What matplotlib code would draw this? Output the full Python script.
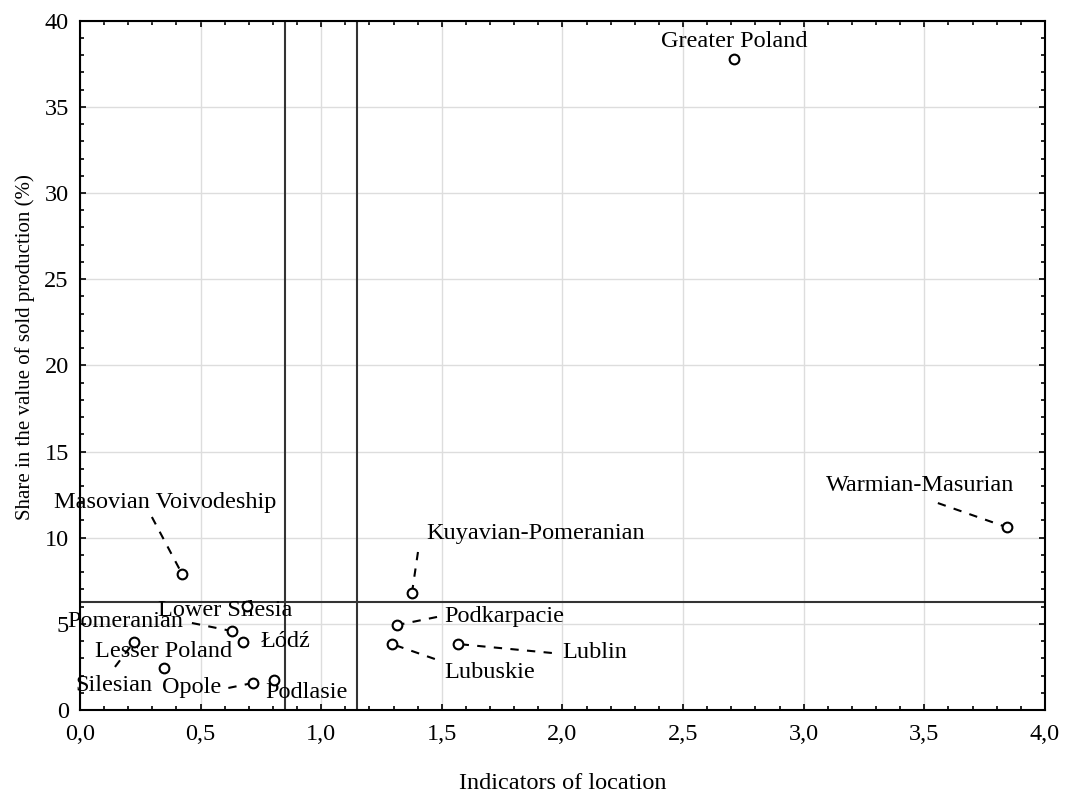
import matplotlib
matplotlib.use("Agg")
import matplotlib.pyplot as plt
from matplotlib.ticker import MultipleLocator, FuncFormatter

plt.rcParams['font.family'] = ['Liberation Serif', 'DejaVu Serif']

# data
regions = ["Greater Poland", "Warmian-Masurian", "Masovian Voivodeship", "Kuyavian-Pomeranian",
           "Lower Silesia", "Pomeranian", "Łódź", "Lesser Poland", "Silesian", "Opole",
           "Podlasie", "Podkarpacie", "Lubuskie", "Lublin"]
loc_index = [2.71, 3.843, 0.423, 1.376, 0.692, 0.630, 0.676, 0.348, 0.224, 0.717,
             0.804, 1.314, 1.293, 1.567]
share = [37.8, 10.6, 7.9, 6.79, 6.04, 4.58, 3.95, 2.44, 3.95, 1.57,
         1.74, 4.93, 3.83, 3.83]

# reference lines (mean share, location index band)
share_ref = 6.25
loc_refs = [0.85, 1.15]

# label layout: (text x, text y, ha, leader start or None)
label_pos = {
    "Greater Poland": (2.711, 38.77, "center", None),
    "Warmian-Masurian": (3.482, 13.0, "center", (3.556, 12.01)),
    "Masovian Voivodeship": (0.352, 12.07, "center", (0.298, 11.2)),
    "Kuyavian-Pomeranian": (1.434, 10.27, "left", (1.401, 9.17)),
    "Lower Silesia": (0.601, 5.80, "center", None),
    "Pomeranian": (0.187, 5.11, "center", (0.464, 5.05)),
    "Łódź": (0.853, 3.95, "center", None),
    "Lesser Poland": (0.348, 3.42, "center", None),
    "Silesian": (0.140, 1.45, "center", (0.145, 2.5)),
    "Opole": (0.461, 1.33, "center", (0.615, 1.28)),
    "Podlasie": (0.937, 0.99, "center", None),
    "Podkarpacie": (1.509, 5.40, "left", (1.480, 5.40)),
    "Lubuskie": (1.509, 2.15, "left", (1.471, 2.96)),
    "Lublin": (1.998, 3.31, "left", (1.956, 3.31)),
}

fig = plt.figure(figsize=(10.65, 7.92), dpi=100)
ax = fig.add_axes([0.0751, 0.1035, 0.9061, 0.8704])

ax.grid(True, which="major", color="#dddddd", linewidth=1.0, zorder=0)
ax.axhline(share_ref, color="#333333", linewidth=1.5, zorder=2)
for v in loc_refs:
    ax.axvline(v, color="#333333", linewidth=1.5, zorder=2)

for name, x, y in zip(regions, loc_index, share):
    tx, ty, ha, lead = label_pos[name]
    if lead is not None:
        ax.plot([lead[0], x], [lead[1], y], color="black", linestyle=(0, (4, 4)),
                linewidth=1.5, zorder=3)
    ax.text(tx, ty, name, ha=ha, va="center", fontsize=17.5, zorder=4)

ax.plot(loc_index, share, linestyle="none", marker="o", markersize=7,
        markerfacecolor="white", markeredgecolor="black", markeredgewidth=1.5, zorder=5)

ax.set_xlim(0, 4)
ax.set_ylim(0, 40)
ax.xaxis.set_major_locator(MultipleLocator(0.5))
ax.xaxis.set_minor_locator(MultipleLocator(0.1))
ax.yaxis.set_major_locator(MultipleLocator(5))
ax.yaxis.set_minor_locator(MultipleLocator(1))
ax.xaxis.set_major_formatter(FuncFormatter(lambda v, p: f"{v:.1f}".replace(".", ",")))
ax.tick_params(which="both", direction="in", top=True, right=True, labelsize=17.5, width=1.2)
ax.tick_params(which="major", length=4)
ax.tick_params(axis="x", which="major", pad=10)
ax.tick_params(axis="y", which="major", pad=8)
ax.tick_params(which="minor", length=3)
for s in ax.spines.values():
    s.set_linewidth(1.5)

ax.set_xlabel("Indicators of location", fontsize=17.5, labelpad=20)
ax.set_ylabel("Share in the value of sold production (%)", fontsize=15, labelpad=7)
ax.yaxis.label.set_y(0.526)

fig.savefig("out.png", dpi=100)
